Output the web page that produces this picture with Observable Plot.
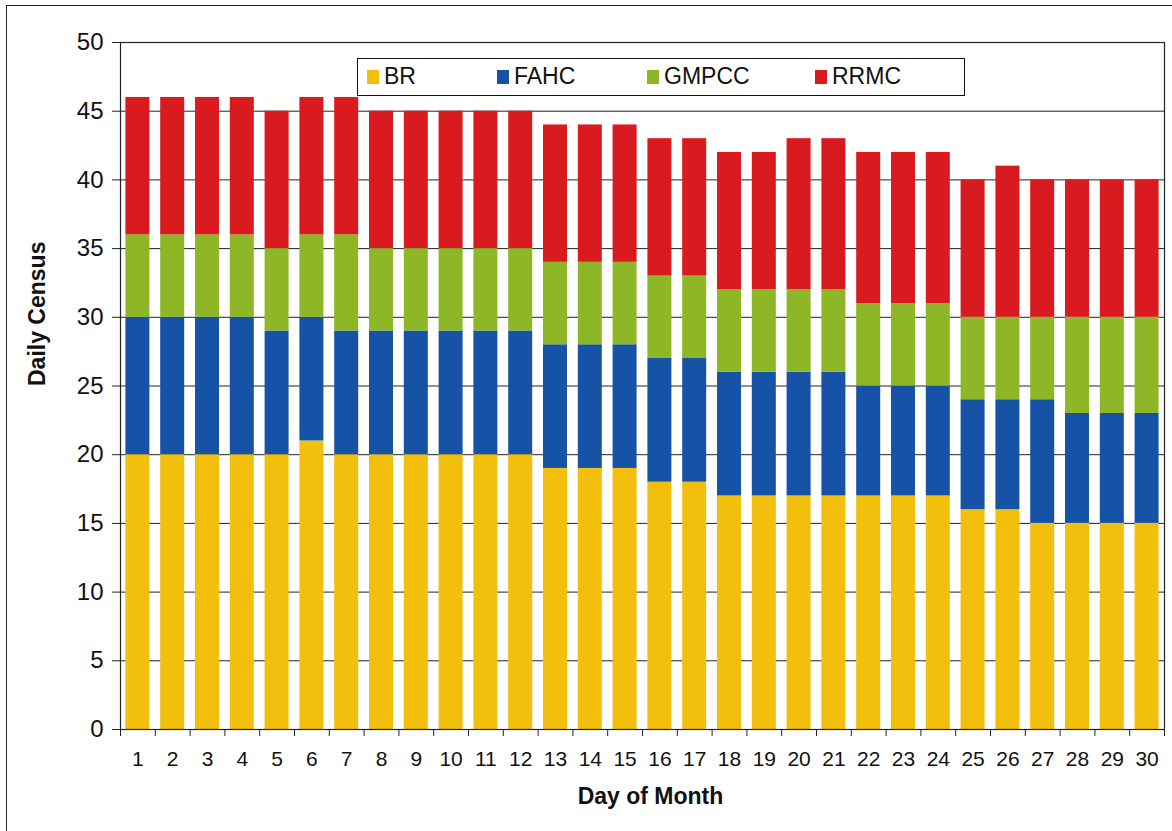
<!DOCTYPE html>
<html>
<head>
<meta charset="utf-8">
<script src="https://cdn.jsdelivr.net/npm/d3@7"></script>
<script src="https://cdn.jsdelivr.net/npm/@observablehq/plot@0.6"></script>
<style>
  body { margin: 0; background: #fff; }
  #wrap { position: relative; width: 1172px; height: 831px; font-family: "Liberation Sans", Arial, sans-serif; overflow: hidden; }
  #border { position: absolute; left: 6px; top: 5px; width: 1180px; height: 840px; border-left: 1.5px solid #222; border-top: 1.5px solid #222; box-sizing: border-box; pointer-events: none; }
  #legend { position: absolute; left: 357px; top: 58px; width: 608px; height: 38px; border: 1.5px solid #111; background: #fff; box-sizing: border-box; }
  .item { position: absolute; top: 5px; font-size: 23px; color: #111; line-height: 25px; }
  .sw { display: inline-block; width: 12px; height: 14px; margin-right: 5px; vertical-align: 0px; }
</style>
</head>
<body>
<div id="wrap">
  <div id="chart"></div>
  <div id="legend"></div>
  <div id="border"></div>
</div>
<script>
const days = [1,2,3,4,5,6,7,8,9,10,11,12,13,14,15,16,17,18,19,20,21,22,23,24,25,26,27,28,29,30];
const hospitals = ["BR", "FAHC", "GMPCC", "RRMC"];
const colors = ["#F2BF0D", "#1652A6", "#8DB726", "#D91B20"];
const BR    = [20,20,20,20,20,21,20,20,20,20,20,20,19,19,19,18,18,17,17,17,17,17,17,17,16,16,15,15,15,15];
const FAHC  = [10,10,10,10,9,9,9,9,9,9,9,9,9,9,9,9,9,9,9,9,9,8,8,8,8,8,9,8,8,8];
const GMPCC = [6,6,6,6,6,6,7,6,6,6,6,6,6,6,6,6,6,6,6,6,6,6,6,6,6,6,6,7,7,7];
const RRMC  = [10,10,10,10,10,10,10,10,10,10,10,10,10,10,10,10,10,10,10,11,11,11,11,11,10,11,10,10,10,10];
const yTicks = [0,5,10,15,20,25,30,35,40,45,50];

const seriesValues = [BR, FAHC, GMPCC, RRMC];
const rows = days.flatMap((d, i) => hospitals.map((h, j) => ({day: d, hospital: h, value: seriesValues[j][i]})));
const boundaries = [0, ...days].map(d => d + 0.5);

const chart = Plot.plot({
  width: 1172,
  height: 831,
  marginLeft: 120,
  marginRight: 8,
  marginTop: 42,
  marginBottom: 102,
  style: {fontFamily: "'Liberation Sans', Arial, sans-serif", fontSize: "20px", color: "#111", background: "transparent"},
  x: {domain: [0.5, 30.5]},
  y: {domain: [0, 50]},
  color: {domain: hospitals, range: colors},
  marks: [
    Plot.gridY({ticks: yTicks, stroke: "#222", strokeOpacity: 1, strokeWidth: 1}),
    Plot.rectY(rows, Plot.stackY({
      x1: d => d.day - 0.5,
      x2: d => d.day + 0.5,
      y: "value",
      fill: "hospital",
      order: hospitals,
      insetLeft: 5.4,
      insetRight: 5.4
    })),
    Plot.frame({stroke: "#222", strokeWidth: 1.2}),
    Plot.axisY({ticks: yTicks, tickSize: 8, tickPadding: 9, label: null, fontSize: 24, stroke: "#222"}),
    Plot.axisX({ticks: boundaries, tickSize: 7, tickFormat: () => "", label: null, stroke: "#222"}),
    Plot.axisX({ticks: days, tickSize: 0, tickPadding: 22, label: null, fontSize: 21}),
    Plot.text(["Daily Census"], {frameAnchor: "left", rotate: -90, dx: -83, fontWeight: "bold", fontSize: 23, fill: "#111"}),
    Plot.text(["Day of Month"], {frameAnchor: "bottom", dy: 74, dx: 8, fontWeight: "bold", fontSize: 23, fill: "#111"})
  ]
});
document.getElementById("chart").appendChild(chart);

const legendLefts = [9, 139, 289, 457];
const legend = document.getElementById("legend");
hospitals.forEach((h, i) => {
  const item = document.createElement("span");
  item.className = "item";
  item.style.left = legendLefts[i] + "px";
  const sw = document.createElement("span");
  sw.className = "sw";
  sw.style.background = colors[i];
  item.appendChild(sw);
  item.appendChild(document.createTextNode(h));
  legend.appendChild(item);
});
</script>
</body>
</html>
